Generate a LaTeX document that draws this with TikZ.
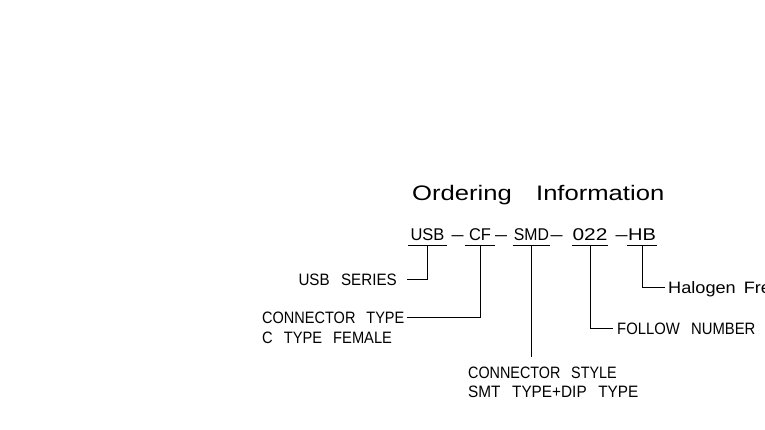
\documentclass[tikz,border=0pt]{standalone}
\usepackage{fontspec}
\setmainfont{Liberation Sans}
\usepackage{graphicx}
\newcommand{\hs}[2]{\scalebox{#1}[1]{#2}}
\newcommand{\ws}{\hspace{12.4pt}}
\tikzset{
  cad/.style={font=\fontsize{16.5}{20}\selectfont, inner sep=0pt, text height=11.8pt, text depth=0pt},
  codeseg/.style={font=\fontsize{17}{20}\selectfont, inner xsep=0pt, inner ysep=0pt, text height=12pt, text depth=4pt, anchor=base},
  dashseg/.style={font=\fontsize{17}{20}\selectfont, inner sep=0pt, anchor=base},
  lead/.style={line width=0.9pt, black},
}
\begin{document}
\begin{tikzpicture}[x=1pt, y=-1pt]
\useasboundingbox (0,0) rectangle (765,430);
\fill[white] (0,0) rectangle (765,430);

% title
\node[font=\fontsize{21}{24}\selectfont, inner sep=0pt, anchor=base west] (title) at (412,200.5)
  {\hs{1.22}{Ordering\hspace{19.9pt}Information}};

% part number segments
\node[codeseg, minimum width=39pt] (usb)  at (427.5,241) {\hs{0.97}{USB}};
\node[dashseg] (d1) at (457.5,241) {\hs{1.27}{–}};
\node[codeseg, minimum width=30pt] (cf)   at (480,241)   {\hs{0.97}{CF}};
\node[dashseg] (d2) at (501,241)   {\hs{1.27}{–}};
\node[codeseg, minimum width=37pt] (smd)  at (531.5,241) {\hs{0.93}{SMD}};
\node[dashseg] (d3) at (556.5,241) {\hs{1.27}{–}};
\node[codeseg, minimum width=36pt] (n022) at (590,241)   {\hs{1.23}{022}};
\node[dashseg] (d4) at (621.5,241) {\hs{1.27}{–}};
\node[codeseg, minimum width=30pt] (hb)   at (642,241)   {\hs{1.18}{HB}};

% underlines
\foreach \n in {usb,cf,smd,n022,hb}
  \draw[lead] (\n.south west) -- (\n.south east);

% labels
\node[cad, anchor=base east] (lblusb) at (397,285) {\hs{0.92}{USB\ws SERIES}};
\node[cad, anchor=base west] (lblcf)  at (262,323) {\hs{0.88}{CONNECTOR\ws TYPE}};
\node[cad, anchor=base west] (lblcf2) at (262,343) {\hs{0.89}{C\ws TYPE\ws FEMALE}};
\node[cad, anchor=base west] (lblsmd) at (468,378) {\hs{0.87}{CONNECTOR\ws STYLE}};
\node[cad, anchor=base west] (lblsmd2) at (468,397) {\hs{0.93}{SMT\ws TYPE+DIP\ws TYPE}};
\node[cad, anchor=base west] (lbl022) at (617,334) {\hs{0.90}{FOLLOW\ws NUMBER}};
\node[cad, anchor=base west] (lblhb)  at (668,293) {\hs{1.1}{Halogen\hspace{7.3pt}Free}};

% leaders
\draw[lead, shorten >=10pt] (usb.south) |- (lblusb.east);
\draw[lead, shorten >=2pt]  (cf.south) |- (lblcf.east);
\draw[lead, shorten >=9pt]  (smd.south) -- (smd.south |- lblsmd.north);
\draw[lead, shorten >=4pt]  (n022.south) |- (lbl022.west);
\draw[lead, shorten >=3pt]  (hb.south) |- (lblhb.west);
\end{tikzpicture}
\end{document}
